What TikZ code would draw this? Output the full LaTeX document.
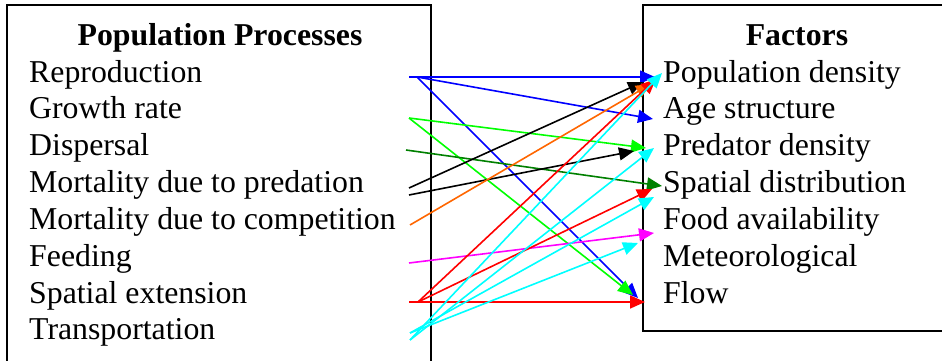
\documentclass[tikz,border=0pt]{standalone}
\usepackage{fontspec}
\setmainfont{Liberation Serif}
\usetikzlibrary{arrows.meta}
\definecolor{cblue}{RGB}{0,0,255}
\definecolor{cgreen}{RGB}{0,255,0}
\definecolor{cdgreen}{RGB}{0,128,0}
\definecolor{corange}{RGB}{255,102,0}
\definecolor{cmag}{RGB}{255,0,255}
\definecolor{cred}{RGB}{255,0,0}
\definecolor{ccyan}{RGB}{0,255,255}
\begin{document}
\begin{tikzpicture}[x=1pt,y=-1pt,
  lbl/.style={anchor=base west,inner sep=0pt,font=\fontsize{31.8}{36.8}\selectfont},
  ttl/.style={anchor=base,inner sep=0pt,font=\fontsize{31.8}{36.8}\selectfont\bfseries},
  boxline/.style={line width=2pt},
  conn/.style={line width=1.6pt,-{Triangle[length=15pt,width=13pt]}}]
\useasboundingbox (0,0) rectangle (942,361);
% boxes
\draw[boxline] (7,370) -- (7,5) -- (431,5) -- (431,370);
\draw[boxline] (950,331) -- (643,331) -- (643,5) -- (950,5);
% titles
\node[ttl] (tl) at (220,46) {Population Processes};
\node[ttl] (tr) at (797,46) {Factors};
% left labels
\node[lbl] (p1) at (29,82) {Reproduction};
\node[lbl] (p2) at (29,118) {Growth rate};
\node[lbl] (p3) at (29,155) {Dispersal};
\node[lbl] (p4) at (29,192) {Mortality due to predation};
\node[lbl] (p5) at (29,229) {Mortality due to competition};
\node[lbl] (p6) at (29,266) {Feeding};
\node[lbl] (p7) at (29,303) {Spatial extension};
\node[lbl] (p8) at (29,339) {Transportation};
% right labels
\node[lbl] (f1) at (663,82) {Population density};
\node[lbl] (f2) at (663,118) {Age structure};
\node[lbl] (f3) at (663,155) {Predator density};
\node[lbl] (f4) at (663,192) {Spatial distribution};
\node[lbl] (f5) at (663,229) {Food availability};
\node[lbl] (f6) at (663,266) {Meteorological};
\node[lbl] (f7) at (663,303) {Flow};
% start coordinates
\coordinate (sA) at (409,77);
\coordinate (sA2) at (417,77);
\coordinate (sB) at (409,118);
\coordinate (sC) at (406,150);
\coordinate (sD1) at (409,188);
\coordinate (sD2) at (409,195);
\coordinate (sE) at (410,225);
\coordinate (sF) at (409,263);
\coordinate (sG) at (409,302);
\coordinate (sG2) at (418,302);
\coordinate (sH1) at (410,333);
\coordinate (sH2) at (410,340);
% end coordinates
\coordinate (eA1) at (655,77);
\coordinate (eA2) at (653,119);
\coordinate (eA3) at (638,298);
\coordinate (eB1) at (646,148);
\coordinate (eB2) at (633,295);
\coordinate (eC) at (662,186);
\coordinate (eD1) at (643,82);
\coordinate (eD2) at (634,151);
\coordinate (eE) at (651,84);
\coordinate (eF) at (654,233);
\coordinate (eG1) at (645,302);
\coordinate (eG2) at (652,189);
\coordinate (eG3) at (656,79);
\coordinate (eH1) at (662,73);
\coordinate (eH2) at (654,148);
\coordinate (eH3) at (654,197);
\coordinate (eH4) at (638,243);
% connectors
\draw[conn,cblue] (sA) -- (eA1);
\draw[conn,cblue] (sA2) -- (eA2);
\draw[conn,cblue] (sA2) -- (eA3);
\draw[conn,cgreen] (sB) -- (eB1);
\draw[conn,cgreen] (sB) -- (eB2);
\draw[conn,cdgreen] (sC) -- (eC);
\draw[conn,black] (sD1) -- (eD1);
\draw[conn,black] (sD2) -- (eD2);
\draw[conn,corange] (sE) -- (eE);
\draw[conn,cmag] (sF) -- (eF);
\draw[conn,cred] (sG) -- (eG1);
\draw[conn,cred] (sG2) -- (eG2);
\draw[conn,cred] (sG2) -- (eG3);
\draw[conn,ccyan] (sH1) -- (eH3);
\draw[conn,ccyan] (sH1) -- (eH4);
\draw[conn,ccyan] (sH2) -- (eH1);
\draw[conn,ccyan] (sH2) -- (eH2);
\end{tikzpicture}
\end{document}
